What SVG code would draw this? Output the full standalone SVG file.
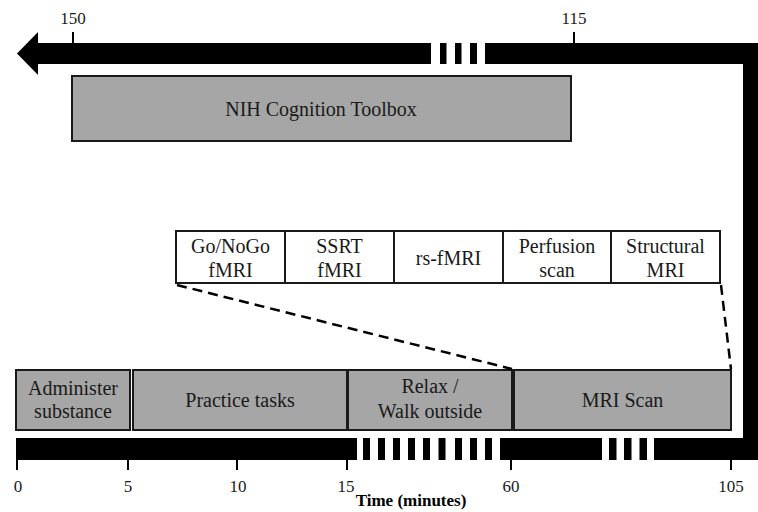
<svg xmlns="http://www.w3.org/2000/svg" width="758" height="512" viewBox="0 0 758 512">
<style>
.box{fill:#a6a6a6;stroke:#1a1a1a;stroke-width:2}
.wbox{fill:#ffffff;stroke:#1a1a1a;stroke-width:2}
.bar{fill:#000000}
.tick{stroke:#000000;stroke-width:2}
.t{font-family:"Liberation Serif","Times New Roman",serif;font-size:20px;fill:#1a1a1a;text-anchor:middle}
.n{font-family:"Liberation Serif","Times New Roman",serif;font-size:17px;fill:#1a1a1a;text-anchor:middle}
.b{font-family:"Liberation Serif","Times New Roman",serif;font-size:17px;font-weight:bold;fill:#000000;text-anchor:middle}
.dash{stroke:#000000;stroke-width:2.5;stroke-dasharray:10 6;fill:none}
</style>
<rect width="758" height="512" fill="#ffffff"/>
<g id="timeline">
  <!-- top bar with arrow -->
  <polygon class="bar" points="17,53.5 38,32 38,43 431,43 431,64 38,64 38,75"/>
  <rect class="bar" x="440" y="43" width="6.5" height="21"/>
  <rect class="bar" x="455" y="43" width="6.5" height="21"/>
  <rect class="bar" x="470" y="43" width="7" height="21"/>
  <rect class="bar" x="485" y="43" width="273" height="21"/>
  <!-- right vertical bar -->
  <rect class="bar" x="743" y="43" width="15" height="417"/>
  <!-- bottom bar -->
  <rect class="bar" x="16" y="438" width="341" height="22"/>
  <rect class="bar" x="363" y="438" width="7" height="22"/>
  <rect class="bar" x="378" y="438" width="7" height="22"/>
  <rect class="bar" x="393" y="438" width="7" height="22"/>
  <rect class="bar" x="408" y="438" width="7" height="22"/>
  <rect class="bar" x="423" y="438" width="7" height="22"/>
  <rect class="bar" x="438.5" y="438" width="7" height="22"/>
  <rect class="bar" x="455" y="438" width="7" height="22"/>
  <rect class="bar" x="470" y="438" width="7" height="22"/>
  <rect class="bar" x="485" y="438" width="7" height="22"/>
  <rect class="bar" x="500" y="438" width="102" height="22"/>
  <rect class="bar" x="609" y="438" width="7.5" height="22"/>
  <rect class="bar" x="624" y="438" width="7.5" height="22"/>
  <rect class="bar" x="639.5" y="438" width="7.5" height="22"/>
  <rect class="bar" x="654" y="438" width="104" height="22"/>
  <!-- ticks -->
  <line class="tick" x1="73" y1="32" x2="73" y2="43"/>
  <line class="tick" x1="574" y1="32" x2="574" y2="43"/>
  <line class="tick" x1="17" y1="460" x2="17" y2="470"/>
  <line class="tick" x1="128" y1="460" x2="128" y2="470"/>
  <line class="tick" x1="237" y1="460" x2="237" y2="470"/>
  <line class="tick" x1="347" y1="460" x2="347" y2="470"/>
  <line class="tick" x1="511" y1="460" x2="511" y2="470"/>
  <line class="tick" x1="731" y1="460" x2="731" y2="470"/>
  <!-- labels -->
  <text class="n" x="73" y="24">150</text>
  <text class="n" x="574" y="24">115</text>
  <text class="n" x="18" y="492">0</text>
  <text class="n" x="128" y="492">5</text>
  <text class="n" x="238" y="492">10</text>
  <text class="n" x="346" y="492">15</text>
  <text class="n" x="511" y="492">60</text>
  <text class="n" x="731" y="492">105</text>
  <text class="b" x="411" y="506">Time (minutes)</text>
</g>
<g id="nih">
  <rect class="box" x="72" y="76" width="499" height="65"/>
  <text class="t" x="321" y="116">NIH Cognition Toolbox</text>
</g>
<g id="gonogo">
  <rect class="wbox" x="176" y="231" width="109" height="52"/>
  <text class="t" x="230.5" y="253">Go/NoGo</text>
  <text class="t" x="230.5" y="277">fMRI</text>
</g>
<g id="ssrt">
  <rect class="wbox" x="285" y="231" width="109" height="52"/>
  <text class="t" x="339.5" y="253">SSRT</text>
  <text class="t" x="339.5" y="277">fMRI</text>
</g>
<g id="rsfmri">
  <rect class="wbox" x="394" y="231" width="109" height="52"/>
  <text class="t" x="448.5" y="265">rs-fMRI</text>
</g>
<g id="perfusion">
  <rect class="wbox" x="503" y="231" width="108" height="52"/>
  <text class="t" x="557" y="253">Perfusion</text>
  <text class="t" x="557" y="277">scan</text>
</g>
<g id="structural">
  <rect class="wbox" x="611" y="231" width="109" height="52"/>
  <text class="t" x="665.5" y="253">Structural</text>
  <text class="t" x="665.5" y="277">MRI</text>
</g>
<g id="administer">
  <rect class="box" x="16" y="370" width="114" height="60"/>
  <text class="t" x="73" y="395">Administer</text>
  <text class="t" x="73" y="418">substance</text>
</g>
<g id="practice">
  <rect class="box" x="133" y="370" width="214" height="60"/>
  <text class="t" x="240" y="407">Practice tasks</text>
</g>
<g id="relax">
  <rect class="box" x="348" y="370" width="164" height="60"/>
  <text class="t" x="430" y="393">Relax /</text>
  <text class="t" x="430" y="418">Walk outside</text>
</g>
<g id="mriscan">
  <rect class="box" x="514" y="370" width="217" height="60"/>
  <text class="t" x="622.5" y="407">MRI Scan</text>
</g>
<g id="connectors">
  <line class="dash" x1="177" y1="285" x2="512" y2="369"/>
  <line class="dash" x1="721" y1="285" x2="731" y2="369"/>
</g>
</svg>
